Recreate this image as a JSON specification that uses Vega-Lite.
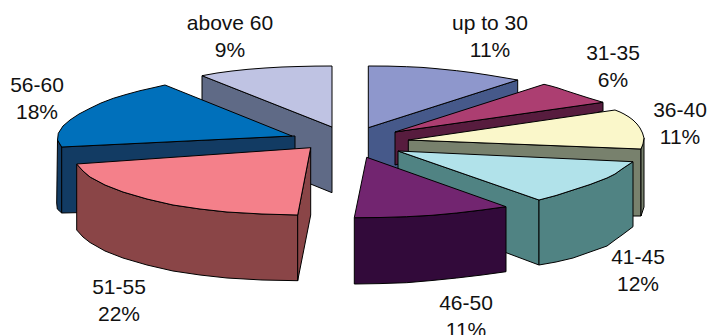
{
  "$schema": "https://vega.github.io/schema/vega-lite/v6.json",
  "width": 707,
  "height": 335,
  "padding": 0,
  "autosize": {"type": "none"},
  "background": "#ffffff",
  "view": {"stroke": null},
  "datasets": {
    "faces": [
      {"face":"a1","i":0,"u":368.3,"v":127.7},{"face":"a1","i":1,"u":517.7,"v":80},{"face":"a1","i":2,"u":517.7,"v":93},{"face":"a1","i":3,"u":368.3,"v":192},{"face":"a1","i":4,"u":368.3,"v":127.7},
      {"face":"a2","i":0,"u":368.3,"v":66},{"face":"a2","i":1,"u":388,"v":66.1},{"face":"a2","i":2,"u":406.7,"v":66.7},{"face":"a2","i":3,"u":422,"v":67.4},{"face":"a2","i":4,"u":435,"v":68.5},{"face":"a2","i":5,"u":456.7,"v":70.7},{"face":"a2","i":6,"u":472,"v":72.6},{"face":"a2","i":7,"u":488,"v":75},{"face":"a2","i":8,"u":503,"v":77.5},{"face":"a2","i":9,"u":517.7,"v":80},{"face":"a2","i":10,"u":368.3,"v":127.7},{"face":"a2","i":11,"u":368.3,"v":66},
      {"face":"b1","i":0,"u":202,"v":75.7},{"face":"b1","i":1,"u":332,"v":127},{"face":"b1","i":2,"u":332,"v":192.7},{"face":"b1","i":3,"u":202,"v":140},{"face":"b1","i":4,"u":202,"v":75.7},
      {"face":"b2","i":0,"u":202,"v":75.7},{"face":"b2","i":1,"u":217,"v":73},{"face":"b2","i":2,"u":232,"v":71},{"face":"b2","i":3,"u":248,"v":69.3},{"face":"b2","i":4,"u":265,"v":68},{"face":"b2","i":5,"u":282,"v":67},{"face":"b2","i":6,"u":298,"v":66.5},{"face":"b2","i":7,"u":315,"v":66.1},{"face":"b2","i":8,"u":332,"v":66},{"face":"b2","i":9,"u":332,"v":127},{"face":"b2","i":10,"u":202,"v":75.7},
      {"face":"c1","i":0,"u":395,"v":132},{"face":"c1","i":1,"u":603,"v":102.3},{"face":"c1","i":2,"u":603,"v":111},{"face":"c1","i":3,"u":395,"v":165},{"face":"c1","i":4,"u":395,"v":132},
      {"face":"c2","i":0,"u":544,"v":84.3},{"face":"c2","i":1,"u":551,"v":86},{"face":"c2","i":2,"u":558,"v":88},{"face":"c2","i":3,"u":565,"v":90.4},{"face":"c2","i":4,"u":573,"v":93},{"face":"c2","i":5,"u":588,"v":97.8},{"face":"c2","i":6,"u":603,"v":102.3},{"face":"c2","i":7,"u":395,"v":132},{"face":"c2","i":8,"u":544,"v":84.3},
      {"face":"d1","i":0,"u":408.3,"v":140},{"face":"d1","i":1,"u":641,"v":149},{"face":"d1","i":2,"u":641,"v":216},{"face":"d1","i":3,"u":633,"v":216},{"face":"d1","i":4,"u":408.3,"v":200},{"face":"d1","i":5,"u":408.3,"v":140},
      {"face":"d3","i":0,"u":641,"v":149},{"face":"d3","i":1,"u":644,"v":138},{"face":"d3","i":2,"u":644,"v":207},{"face":"d3","i":3,"u":641,"v":216},{"face":"d3","i":4,"u":641,"v":149},
      {"face":"d2","i":0,"u":615,"v":110},{"face":"d2","i":1,"u":620,"v":112},{"face":"d2","i":2,"u":624,"v":114},{"face":"d2","i":3,"u":629,"v":117},{"face":"d2","i":4,"u":633,"v":120},{"face":"d2","i":5,"u":637,"v":124},{"face":"d2","i":6,"u":640,"v":128},{"face":"d2","i":7,"u":642.5,"v":133},{"face":"d2","i":8,"u":644,"v":138},{"face":"d2","i":9,"u":643,"v":144},{"face":"d2","i":10,"u":641,"v":149},{"face":"d2","i":11,"u":408.3,"v":140},{"face":"d2","i":12,"u":615,"v":110},
      {"face":"e1","i":0,"u":398,"v":151},{"face":"e1","i":1,"u":539,"v":200},{"face":"e1","i":2,"u":539,"v":265},{"face":"e1","i":3,"u":507,"v":253},{"face":"e1","i":4,"u":398,"v":215},{"face":"e1","i":5,"u":398,"v":151},
      {"face":"e3","i":0,"u":539,"v":200},{"face":"e3","i":1,"u":556,"v":195.5},{"face":"e3","i":2,"u":573,"v":190},{"face":"e3","i":3,"u":590,"v":184.5},{"face":"e3","i":4,"u":607,"v":178},{"face":"e3","i":5,"u":615,"v":174},{"face":"e3","i":6,"u":622,"v":169},{"face":"e3","i":7,"u":628,"v":165},{"face":"e3","i":8,"u":633,"v":161.7},{"face":"e3","i":9,"u":633,"v":226.7},{"face":"e3","i":10,"u":628,"v":230.5},{"face":"e3","i":11,"u":622,"v":235},{"face":"e3","i":12,"u":615,"v":240},{"face":"e3","i":13,"u":607,"v":246},{"face":"e3","i":14,"u":590,"v":252},{"face":"e3","i":15,"u":573,"v":258},{"face":"e3","i":16,"u":556,"v":262},{"face":"e3","i":17,"u":539,"v":265},{"face":"e3","i":18,"u":539,"v":200},
      {"face":"e2","i":0,"u":398,"v":151},{"face":"e2","i":1,"u":633,"v":161.7},{"face":"e2","i":2,"u":628,"v":165},{"face":"e2","i":3,"u":622,"v":169},{"face":"e2","i":4,"u":615,"v":174},{"face":"e2","i":5,"u":607,"v":178},{"face":"e2","i":6,"u":590,"v":184.5},{"face":"e2","i":7,"u":573,"v":190},{"face":"e2","i":8,"u":556,"v":195.5},{"face":"e2","i":9,"u":539,"v":200},{"face":"e2","i":10,"u":398,"v":151},
      {"face":"g1","i":0,"u":57.5,"v":140},{"face":"g1","i":1,"u":61.7,"v":147},{"face":"g1","i":2,"u":61.7,"v":213},{"face":"g1","i":3,"u":57.3,"v":209},{"face":"g1","i":4,"u":56.7,"v":203},{"face":"g1","i":5,"u":57.5,"v":140},
      {"face":"g3","i":0,"u":61.7,"v":147},{"face":"g3","i":1,"u":292,"v":136},{"face":"g3","i":2,"u":295,"v":136},{"face":"g3","i":3,"u":295,"v":208},{"face":"g3","i":4,"u":61.7,"v":213},{"face":"g3","i":5,"u":61.7,"v":147},
      {"face":"g2","i":0,"u":165,"v":85},{"face":"g2","i":1,"u":152,"v":88},{"face":"g2","i":2,"u":140,"v":90.7},{"face":"g2","i":3,"u":126,"v":94.5},{"face":"g2","i":4,"u":113.3,"v":98.3},{"face":"g2","i":5,"u":101,"v":103},{"face":"g2","i":6,"u":90,"v":108.3},{"face":"g2","i":7,"u":79,"v":114},{"face":"g2","i":8,"u":70,"v":120},{"face":"g2","i":9,"u":63,"v":126},{"face":"g2","i":10,"u":58.3,"v":133.3},{"face":"g2","i":11,"u":57.5,"v":140},{"face":"g2","i":12,"u":61.7,"v":147},{"face":"g2","i":13,"u":292,"v":136},{"face":"g2","i":14,"u":165,"v":85},
      {"face":"h1","i":0,"u":76.7,"v":164},{"face":"h1","i":1,"u":83,"v":171},{"face":"h1","i":2,"u":90,"v":177},{"face":"h1","i":3,"u":105,"v":185},{"face":"h1","i":4,"u":123,"v":192},{"face":"h1","i":5,"u":147,"v":199},{"face":"h1","i":6,"u":173,"v":205},{"face":"h1","i":7,"u":200,"v":209},{"face":"h1","i":8,"u":227,"v":212},{"face":"h1","i":9,"u":262,"v":214},{"face":"h1","i":10,"u":297.7,"v":215},{"face":"h1","i":11,"u":297.7,"v":280.7},{"face":"h1","i":12,"u":262,"v":280},{"face":"h1","i":13,"u":227,"v":278},{"face":"h1","i":14,"u":200,"v":275},{"face":"h1","i":15,"u":173,"v":271},{"face":"h1","i":16,"u":147,"v":265},{"face":"h1","i":17,"u":123,"v":258},{"face":"h1","i":18,"u":105,"v":251},{"face":"h1","i":19,"u":90,"v":242.5},{"face":"h1","i":20,"u":83,"v":237},{"face":"h1","i":21,"u":76.7,"v":230},{"face":"h1","i":22,"u":76.7,"v":164},
      {"face":"h3","i":0,"u":297.7,"v":215},{"face":"h3","i":1,"u":310.7,"v":147.7},{"face":"h3","i":2,"u":310.7,"v":215},{"face":"h3","i":3,"u":297.7,"v":280.7},{"face":"h3","i":4,"u":297.7,"v":215},
      {"face":"h2","i":0,"u":76.7,"v":164},{"face":"h2","i":1,"u":83,"v":171},{"face":"h2","i":2,"u":90,"v":177},{"face":"h2","i":3,"u":105,"v":185},{"face":"h2","i":4,"u":123,"v":192},{"face":"h2","i":5,"u":147,"v":199},{"face":"h2","i":6,"u":173,"v":205},{"face":"h2","i":7,"u":200,"v":209},{"face":"h2","i":8,"u":227,"v":212},{"face":"h2","i":9,"u":262,"v":214},{"face":"h2","i":10,"u":297.7,"v":215},{"face":"h2","i":11,"u":310.7,"v":147.7},{"face":"h2","i":12,"u":76.7,"v":164},
      {"face":"f1","i":0,"u":354.3,"v":217.7},{"face":"f1","i":1,"u":380,"v":217.5},{"face":"f1","i":2,"u":406.7,"v":216.7},{"face":"f1","i":3,"u":432,"v":215.3},{"face":"f1","i":4,"u":456.7,"v":213},{"face":"f1","i":5,"u":482,"v":210},{"face":"f1","i":6,"u":506,"v":206.7},{"face":"f1","i":7,"u":506,"v":271.7},{"face":"f1","i":8,"u":482,"v":275},{"face":"f1","i":9,"u":456.7,"v":278},{"face":"f1","i":10,"u":432,"v":280.5},{"face":"f1","i":11,"u":406.7,"v":282.7},{"face":"f1","i":12,"u":380,"v":283.6},{"face":"f1","i":13,"u":354.3,"v":284},{"face":"f1","i":14,"u":354.3,"v":217.7},
      {"face":"f2","i":0,"u":366.7,"v":157.3},{"face":"f2","i":1,"u":354.3,"v":217.7},{"face":"f2","i":2,"u":380,"v":217.5},{"face":"f2","i":3,"u":406.7,"v":216.7},{"face":"f2","i":4,"u":432,"v":215.3},{"face":"f2","i":5,"u":456.7,"v":213},{"face":"f2","i":6,"u":482,"v":210},{"face":"f2","i":7,"u":506,"v":206.7},{"face":"f2","i":8,"u":366.7,"v":157.3}
    ],
    "labels": [
      {"age":"up to 30","share":0.11,"u":490,"v":37.5},
      {"age":"31-35","share":0.06,"u":613,"v":67.5},
      {"age":"36-40","share":0.11,"u":680,"v":124.5},
      {"age":"41-45","share":0.12,"u":638,"v":271.5},
      {"age":"46-50","share":0.11,"u":466,"v":317.5},
      {"age":"51-55","share":0.22,"u":119,"v":301.5},
      {"age":"56-60","share":0.18,"u":37,"v":99.5},
      {"age":"above 60","share":0.09,"u":230,"v":37.5}
    ]
  },
  "layer": [
    {
      "data": {"name": "faces"},
      "mark": {"type": "line", "stroke": "#000000", "strokeWidth": 1, "strokeJoin": "round", "clip": false},
      "encoding": {
        "x": {"field": "u", "type": "quantitative", "scale": {"domain": [0, 707], "nice": false, "zero": false}, "axis": null},
        "y": {"field": "v", "type": "quantitative", "scale": {"domain": [335, 0], "nice": false, "zero": false}, "axis": null},
        "order": {"field": "i", "type": "quantitative"},
        "fill": {
          "field": "face",
          "type": "nominal",
          "legend": null,
          "scale": {
            "domain": ["a1","a2","b1","b2","c1","c2","d1","d2","d3","e1","e2","e3","f1","f2","g1","g2","g3","h1","h2","h3"],
            "range": ["#46598A","#8E97CC","#5F6A86","#BFC3E3","#571C3E","#AC3E71","#78816D","#FAF7CA","#78816D","#508383","#B1E2EA","#508383","#320A3A","#722570","#123B63","#0070BB","#123B63","#8A4547","#F4808A","#8A4547"]
          }
        }
      }
    },
    {
      "data": {"name": "labels"},
      "mark": {"type": "text", "font": "Liberation Sans", "fontSize": 21, "color": "#111111", "dy": -13.5, "align": "center", "baseline": "middle"},
      "encoding": {
        "x": {"field": "u", "type": "quantitative", "scale": {"domain": [0, 707], "nice": false, "zero": false}, "axis": null},
        "y": {"field": "v", "type": "quantitative", "scale": {"domain": [335, 0], "nice": false, "zero": false}, "axis": null},
        "text": {"field": "age", "type": "nominal"}
      }
    },
    {
      "data": {"name": "labels"},
      "mark": {"type": "text", "font": "Liberation Sans", "fontSize": 21, "color": "#111111", "dy": 13.5, "align": "center", "baseline": "middle"},
      "encoding": {
        "x": {"field": "u", "type": "quantitative", "scale": {"domain": [0, 707], "nice": false, "zero": false}, "axis": null},
        "y": {"field": "v", "type": "quantitative", "scale": {"domain": [335, 0], "nice": false, "zero": false}, "axis": null},
        "text": {"field": "share", "type": "quantitative", "format": ".0%"}
      }
    }
  ]
}
